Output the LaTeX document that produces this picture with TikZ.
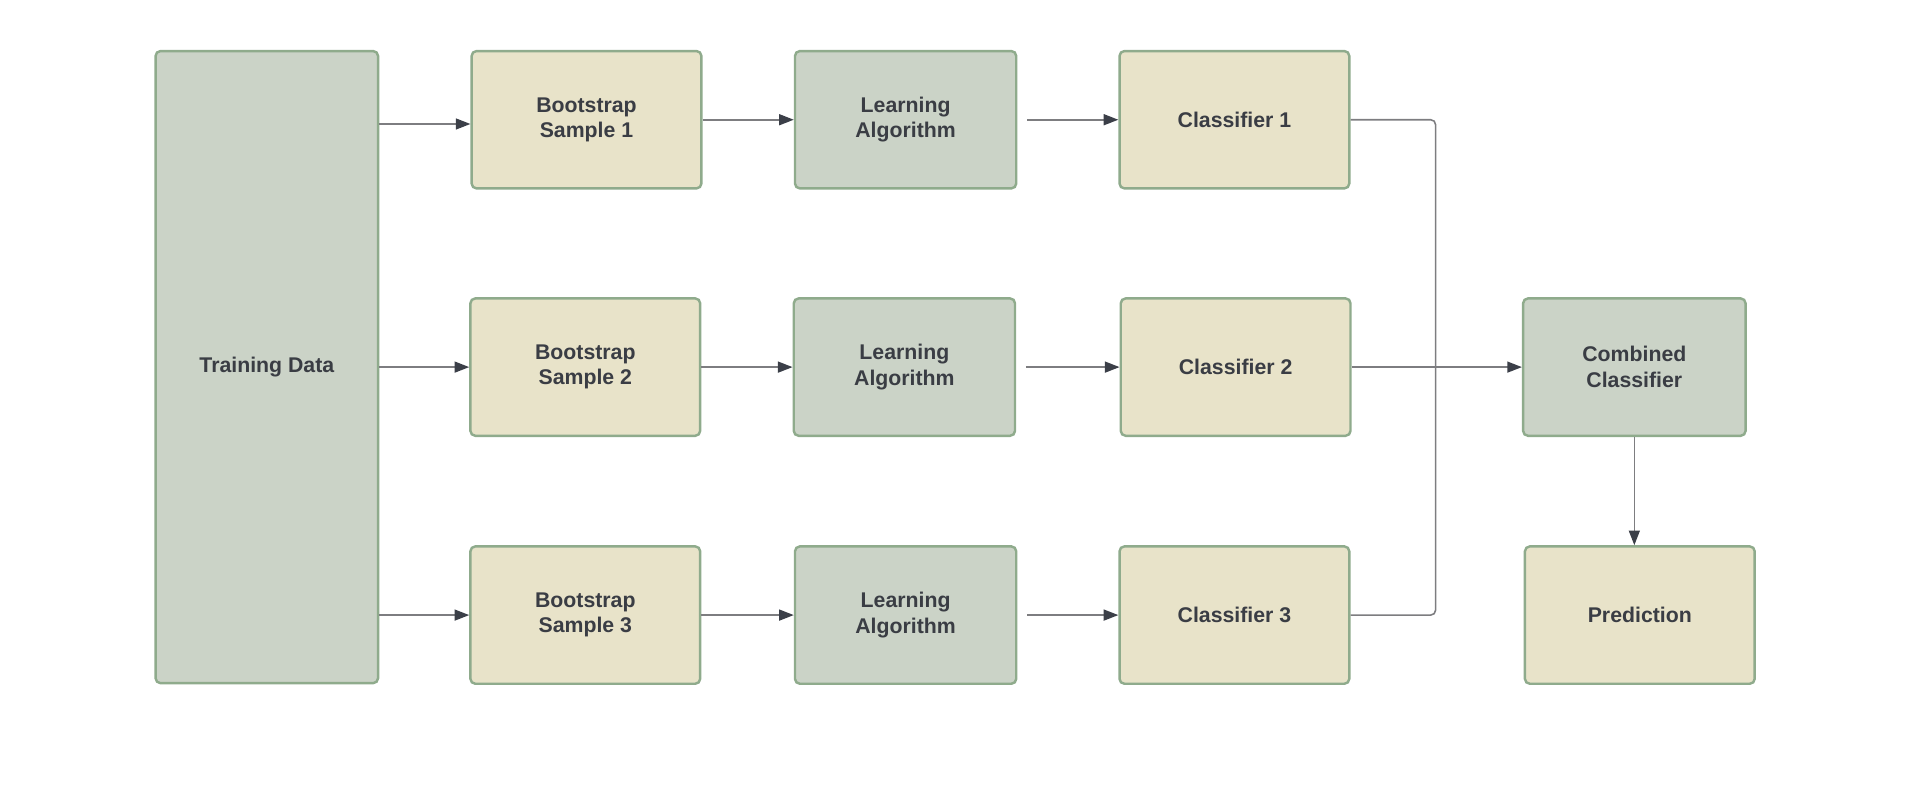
\documentclass[tikz,border=0pt]{standalone}
\usepackage{fontspec}
\setmainfont{Liberation Sans}
\usetikzlibrary{arrows.meta}
\definecolor{sage}{RGB}{203,211,199}
\definecolor{wheat}{RGB}{232,227,201}
\definecolor{edge}{RGB}{143,171,140}
\definecolor{ink}{RGB}{58,61,68}
\definecolor{wire}{RGB}{125,125,128}
\definecolor{tip}{RGB}{59,63,72}

\begin{document}
\begin{tikzpicture}[x=1pt, y=-1pt,
      every node/.style = {shape=rectangle, rounded corners=4pt,
        draw=edge, line width=2pt, align=center, text=ink,
        font=\bfseries\fontsize{17.5}{21}\selectfont,
        minimum width=189pt, minimum height=113pt, inner sep=0pt},
      sample/.style = {fill=wheat},
      model/.style = {fill=sage, minimum width=182pt},
      link/.style = {draw=wire, line width=1.3pt,
        -{Triangle[length=12pt, width=9pt, color=tip]}}]
    \useasboundingbox (0,0) rectangle (1568,645);
    % input
    \node[model, minimum width=183pt, minimum height=520pt] (data) at (219.5,302) {Training Data};
    % row 1
    \node[sample] (boot1) at (482.5,98.5) {Bootstrap\\Sample 1};
    \node[model] (learn1) at (745,98.5) {Learning\\Algorithm};
    \node[sample] (clf1) at (1015.5,98.5) {Classifier 1};
    % row 2
    \node[sample] (boot2) at (481.5,302) {Bootstrap\\Sample 2};
    \node[model] (learn2) at (744,302) {Learning\\Algorithm};
    \node[sample] (clf2) at (1016.5,302) {Classifier 2};
    % row 3
    \node[sample] (boot3) at (481.5,506) {Bootstrap\\Sample 3};
    \node[model] (learn3) at (745,506) {Learning\\Algorithm};
    \node[sample] (clf3) at (1015.5,506) {Classifier 3};
    % output
    \node[model, minimum width=183pt] (comb) at (1344.5,302) {Combined\\Classifier};
    \node[sample] (pred) at (1349,506) {Prediction};
    \coordinate (feed1) at ([yshift=-3.5pt]boot1.west);
    \coordinate (join) at (1181,302);

    \draw[link] (data.east |- feed1) -- (feed1);
    \draw[link] (data.east |- boot2.west) -- (boot2.west);
    \draw[link] (data.east |- boot3.west) -- (boot3.west);
    \draw[link] (boot1) -- (learn1);
    \draw[link] (boot2) -- (learn2);
    \draw[link] (boot3) -- (learn3);
    \draw[link] ([xshift=8pt]learn1.east) -- (clf1.west);
    \draw[link] ([xshift=8pt]learn2.east) -- (clf2.west);
    \draw[link] ([xshift=8pt]learn3.east) -- (clf3.west);
    \draw[draw=wire, line width=1.3pt, rounded corners=4pt] (clf1.east) -| (join);
    \draw[draw=wire, line width=1.3pt, rounded corners=4pt] (clf3.east) -| (join);
    \draw[link] (clf2.east) -- (comb.west);
    \draw[link] (comb.south) -- (comb.south |- pred.north);
  \end{tikzpicture}
\end{document}
